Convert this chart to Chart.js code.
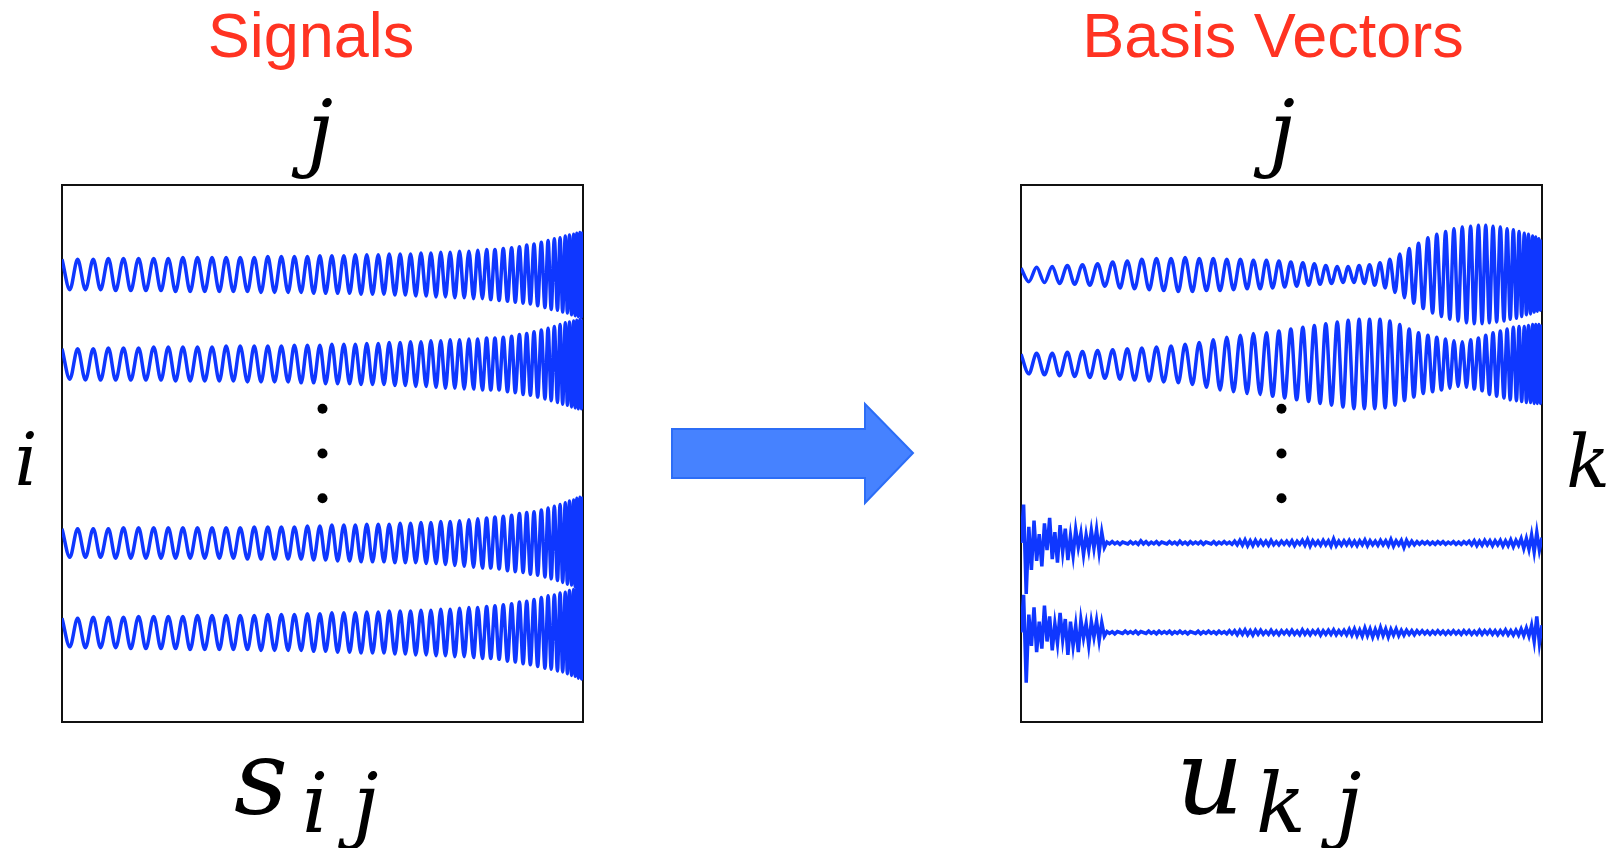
<!DOCTYPE html>
<html lang="en">
<head>
<meta charset="UTF-8">
<title>Signals and Basis Vectors</title>
<script src="https://cdn.jsdelivr.net/npm/chart.js"></script>
<style>
  html, body { margin:0; padding:0; background:#fff; }
  body { width:1617px; height:848px; position:relative; overflow:hidden; }
  .panel { position:absolute; top:175px; width:541px; height:557px; }
  .panel canvas { display:block; }
  .title {
    position:absolute; top:4px; width:600px; text-align:center;
    font-family:"Liberation Sans", Arial, sans-serif; font-size:63px; line-height:1;
    color:#ff3322;
  }
  .math {
    position:absolute; font-family:"DejaVu Serif", serif; font-style:italic;
    line-height:1; color:#000; white-space:nowrap;
  }
  #arrow { position:absolute; left:660px; top:395px; }
</style>
</head>
<body>
  <div class="title" style="left:11px;">Signals</div>
  <div class="title" style="left:973px;">Basis Vectors</div>

  <div class="math" style="left:270px; width:100px; text-align:center; top:89px; font-size:84px;">j</div>
  <div class="math" style="left:1232px; width:100px; text-align:center; top:89px; font-size:84px;">j</div>
  <div class="math" style="left:0px; width:52px; text-align:center; top:424px; font-size:72px;">i</div>
  <div class="math" style="left:1562px; width:52px; text-align:center; top:426px; font-size:72px;">k</div>

  <div class="math" style="left:234px; top:726px; font-size:105px;">s</div>
  <div class="math" style="left:302px; top:763px; font-size:82px;">i</div>
  <div class="math" style="left:353px; top:763px; font-size:82px;">j</div>
  <div class="math" style="left:1176px; top:726px; font-size:105px;">u</div>
  <div class="math" style="left:1256px; top:763px; font-size:82px;">k</div>
  <div class="math" style="left:1336px; top:763px; font-size:82px;">j</div>

  <div class="panel" style="left:52px;"><canvas id="signals" width="541" height="557"></canvas></div>
  <div class="panel" style="left:1011px;"><canvas id="basis" width="541" height="557"></canvas></div>

  <svg id="arrow" width="270" height="120">
    <polygon points="12,34 205,34 205,9 253,58 205,108 205,83 12,83"
             fill="#4682ff" stroke="#2c6df6" stroke-width="2"/>
  </svg>

<script>
// sample index j of every peak / trough (shared time axis, chirp gets faster)
const waveJ = [
  0, 15, 30, 45, 60, 74, 89, 103, 118, 132,
  147, 161, 176, 190, 204, 218, 232, 246, 260, 274,
  288, 302, 315, 329, 342, 356, 369, 382, 395, 408,
  421, 434, 446, 459, 471, 483, 495, 506, 518, 529,
  541, 552, 563, 574, 585, 596, 607, 618, 628, 639,
  649, 659, 669, 679, 689, 699, 708, 718, 727, 736,
  745, 754, 763, 772, 781, 790, 798, 807, 815, 823,
  831, 839, 847, 855, 863, 870, 878, 885, 892, 899,
  906, 913, 920, 927, 933, 939, 945, 951, 956, 961,
  966, 970, 974, 978, 982, 985, 988, 991, 994, 997,
  1000
];

// signals s_ij : row offsets and amplitude at each extremum
const sigRows = [5, 4, 2, 1];
const sigAmp1 = [
  0.17,0.17,0.17,0.17,0.17,0.17,0.18,0.18,0.18,0.18,
  0.18,0.18,0.18,0.18,0.18,0.19,0.19,0.19,0.19,0.19,
  0.19,0.19,0.19,0.19,0.19,0.19,0.19,0.2,0.2,0.2,
  0.2,0.2,0.2,0.2,0.2,0.21,0.21,0.21,0.21,0.21,
  0.21,0.21,0.22,0.22,0.22,0.22,0.22,0.22,0.23,0.23,
  0.23,0.23,0.23,0.24,0.24,0.24,0.24,0.25,0.25,0.25,
  0.25,0.26,0.26,0.26,0.26,0.27,0.27,0.27,0.28,0.28,
  0.28,0.29,0.29,0.3,0.3,0.31,0.31,0.32,0.33,0.33,
  0.34,0.35,0.36,0.37,0.38,0.39,0.4,0.4,0.41,0.42,
  0.43,0.43,0.44,0.45,0.45,0.46,0.46,0.47,0.47,0.48,
  0.48
];
const sigAmp2 = [
  0.17,0.17,0.17,0.18,0.17,0.18,0.18,0.18,0.18,0.18,
  0.18,0.18,0.19,0.18,0.19,0.19,0.19,0.19,0.19,0.19,
  0.19,0.19,0.2,0.19,0.2,0.2,0.2,0.2,0.2,0.2,
  0.2,0.2,0.21,0.21,0.21,0.21,0.21,0.22,0.22,0.22,
  0.22,0.22,0.22,0.23,0.23,0.23,0.23,0.23,0.24,0.24,
  0.24,0.24,0.25,0.25,0.25,0.25,0.26,0.26,0.26,0.27,
  0.27,0.27,0.27,0.28,0.28,0.28,0.28,0.29,0.29,0.29,
  0.29,0.29,0.3,0.31,0.31,0.32,0.33,0.34,0.34,0.35,
  0.36,0.37,0.38,0.39,0.4,0.41,0.42,0.43,0.44,0.45,
  0.46,0.46,0.47,0.48,0.48,0.49,0.49,0.5,0.5,0.5,
  0.5
];
const sigAmp3 = [
  0.16,0.16,0.16,0.16,0.16,0.16,0.16,0.17,0.17,0.17,
  0.17,0.17,0.17,0.17,0.17,0.17,0.17,0.17,0.17,0.17,
  0.17,0.17,0.17,0.17,0.17,0.18,0.18,0.18,0.18,0.18,
  0.18,0.18,0.18,0.18,0.19,0.19,0.19,0.19,0.2,0.2,
  0.2,0.2,0.2,0.21,0.21,0.21,0.21,0.21,0.21,0.22,
  0.22,0.22,0.22,0.22,0.23,0.23,0.23,0.23,0.24,0.24,
  0.24,0.25,0.25,0.26,0.26,0.27,0.27,0.28,0.28,0.28,
  0.29,0.29,0.3,0.31,0.31,0.32,0.33,0.33,0.34,0.35,
  0.35,0.36,0.37,0.38,0.39,0.4,0.41,0.42,0.43,0.44,
  0.45,0.46,0.47,0.47,0.48,0.49,0.5,0.5,0.51,0.52,
  0.52
];
const sigAmp4 = [
  0.16,0.16,0.16,0.17,0.17,0.17,0.17,0.17,0.17,0.18,
  0.18,0.18,0.18,0.18,0.18,0.18,0.18,0.19,0.19,0.19,
  0.19,0.19,0.19,0.19,0.19,0.19,0.19,0.2,0.2,0.2,
  0.2,0.2,0.2,0.2,0.21,0.21,0.21,0.21,0.22,0.22,
  0.22,0.22,0.22,0.23,0.23,0.23,0.23,0.23,0.24,0.24,
  0.24,0.24,0.24,0.25,0.25,0.25,0.25,0.26,0.26,0.26,
  0.26,0.27,0.27,0.27,0.28,0.28,0.28,0.29,0.29,0.29,
  0.3,0.3,0.31,0.32,0.32,0.33,0.34,0.35,0.35,0.36,
  0.37,0.38,0.39,0.4,0.41,0.41,0.42,0.43,0.44,0.44,
  0.45,0.46,0.47,0.48,0.48,0.49,0.5,0.51,0.51,0.52,
  0.52
];

// basis vectors u_kj : first two oscillate with beating envelopes
const basisRows = [5, 4];
const basisAmp1 = [
  0.07,0.08,0.08,0.09,0.09,0.1,0.1,0.11,0.11,0.12,
  0.12,0.13,0.14,0.15,0.15,0.16,0.17,0.17,0.18,0.18,
  0.18,0.19,0.19,0.19,0.18,0.18,0.18,0.18,0.17,0.17,
  0.17,0.16,0.16,0.16,0.16,0.15,0.15,0.14,0.14,0.13,
  0.13,0.12,0.12,0.11,0.1,0.1,0.09,0.09,0.09,0.09,
  0.1,0.1,0.11,0.12,0.13,0.15,0.17,0.2,0.23,0.26,
  0.29,0.32,0.35,0.38,0.41,0.43,0.45,0.47,0.48,0.5,
  0.51,0.52,0.53,0.54,0.54,0.55,0.55,0.55,0.55,0.54,
  0.54,0.53,0.53,0.52,0.51,0.5,0.5,0.49,0.48,0.47,
  0.46,0.45,0.45,0.44,0.43,0.42,0.42,0.41,0.4,0.4,
  0.39
];
const basisAmp2 = [
  0.11,0.11,0.12,0.12,0.12,0.13,0.13,0.14,0.14,0.15,
  0.15,0.16,0.16,0.17,0.17,0.18,0.18,0.19,0.19,0.2,
  0.2,0.21,0.22,0.23,0.24,0.26,0.27,0.29,0.3,0.31,
  0.32,0.33,0.34,0.34,0.35,0.36,0.37,0.38,0.39,0.4,
  0.41,0.42,0.43,0.44,0.45,0.46,0.47,0.48,0.49,0.5,
  0.5,0.5,0.5,0.5,0.5,0.49,0.48,0.46,0.44,0.41,
  0.39,0.37,0.35,0.33,0.32,0.31,0.3,0.29,0.28,0.27,
  0.26,0.25,0.25,0.26,0.27,0.28,0.29,0.3,0.32,0.34,
  0.35,0.36,0.37,0.38,0.39,0.4,0.41,0.41,0.42,0.42,
  0.42,0.43,0.43,0.43,0.44,0.44,0.44,0.44,0.44,0.44,
  0.44
];

// last two basis vectors are noise, one value every noiseStep samples
const noiseStep = 5;
const noiseRows = [2, 1];
const noise1 = [
  0.0,0.43,-0.57,0.18,-0.3,0.25,-0.2,0.1,-0.26,0.22,
  -0.08,0.28,-0.18,0.12,-0.22,0.2,-0.1,0.16,-0.19,0.08,
  -0.14,0.15,-0.05,0.11,-0.13,0.09,-0.08,0.14,-0.06,0.15,
  -0.1,0.12,-0.05,
  0.01,-0.01,0.015,-0.01,0.01,-0.015,0.01,0.0,-0.01,0.015,
  -0.01,0.01,-0.015,0.025,-0.01,0.015,-0.015,0.01,-0.01,0.015,
  -0.015,0.01,0.0,-0.01,0.015,-0.01,0.01,-0.015,0.02,-0.01,
  0.01,-0.015,0.015,-0.01,0.01,-0.01,0.015,-0.015,0.01,0.0,
  -0.01,0.015,-0.015,0.01,-0.01,0.015,-0.01,0.01,-0.015,0.02,
  -0.02,0.03,-0.025,0.035,-0.03,0.025,-0.03,0.03,-0.02,0.025,
  -0.02,0.02,-0.025,0.03,-0.02,0.015,-0.02,0.02,-0.015,0.02,
  -0.02,0.025,-0.03,0.02,-0.015,0.03,-0.025,0.04,-0.035,0.025,
  -0.02,0.02,-0.025,0.03,-0.02,0.025,-0.035,0.045,-0.03,0.02,
  -0.025,0.025,-0.02,0.03,-0.025,0.02,-0.03,0.025,-0.02,0.035,
  -0.03,0.025,-0.02,0.02,-0.025,0.03,-0.02,0.025,-0.03,0.04,
  -0.035,0.025,-0.02,0.03,-0.05,0.03,-0.025,0.02,-0.02,0.015,
  -0.015,0.015,-0.01,0.015,-0.015,0.01,-0.015,0.015,-0.01,0.015,
  -0.015,0.01,-0.01,0.015,-0.015,0.01,-0.015,0.015,-0.01,0.02,
  -0.02,0.025,-0.03,0.02,-0.025,0.03,-0.02,0.025,-0.03,0.025,
  -0.02,0.03,-0.035,0.025,-0.03,0.035,-0.04,0.03,-0.025,0.05,
  -0.06,0.05,-0.07,0.09,-0.1,0.12,-0.08,0.06
];
const noise2 = [
  0.0,0.42,-0.56,0.2,-0.15,0.28,-0.22,0.12,-0.18,0.3,
  -0.1,0.18,-0.2,0.1,-0.12,0.22,-0.08,0.15,-0.25,0.12,
  -0.15,0.08,-0.22,0.14,-0.06,0.1,-0.14,0.12,-0.05,0.13,
  -0.09,0.11,-0.04,
  0.01,-0.01,0.01,-0.015,0.01,0.0,-0.01,0.015,-0.01,0.01,
  -0.01,0.015,-0.015,0.01,0.0,-0.01,0.015,-0.01,0.01,-0.015,
  0.015,-0.01,0.01,-0.01,0.015,-0.015,0.01,-0.01,0.015,-0.01,
  0.01,-0.015,0.01,0.0,-0.01,0.015,-0.015,0.01,-0.01,0.015,
  -0.01,0.01,-0.015,0.015,-0.01,0.01,-0.015,0.02,-0.015,0.02,
  -0.025,0.025,-0.02,0.03,-0.025,0.02,-0.03,0.025,-0.02,0.025,
  -0.02,0.015,-0.02,0.025,-0.02,0.015,-0.025,0.02,-0.015,0.02,
  -0.02,0.025,-0.02,0.015,-0.025,0.03,-0.02,0.02,-0.025,0.02,
  -0.015,0.025,-0.03,0.02,-0.02,0.025,-0.02,0.03,-0.025,0.02,
  -0.02,0.025,-0.025,0.035,-0.03,0.04,-0.035,0.03,-0.04,0.05,
  -0.035,0.04,-0.05,0.035,-0.04,0.055,-0.035,0.04,-0.05,0.035,
  -0.03,0.04,-0.035,0.025,-0.03,0.025,-0.02,0.02,-0.025,0.02,
  -0.015,0.02,-0.015,0.015,-0.02,0.015,-0.015,0.02,-0.015,0.015,
  -0.02,0.015,-0.015,0.02,-0.015,0.015,-0.02,0.02,-0.015,0.02,
  -0.02,0.015,-0.02,0.025,-0.02,0.02,-0.015,0.025,-0.02,0.02,
  -0.025,0.02,-0.02,0.03,-0.025,0.02,-0.03,0.025,-0.03,0.04,
  -0.035,0.05,-0.04,0.08,-0.1,0.18,-0.12,0.08
];

// the vertical ellipsis between rows
const dotJ = [500, 500, 500];
const dotRows = [3.5, 3, 2.5];

const BLUE = '#0f37ff';

function wave(row, amps) {
  return waveJ.map((j, k) => ({ x: j, y: row + (k % 2 ? -amps[k] : amps[k]) }));
}
function noise(row, vals) {
  return vals.map((v, i) => ({ x: i * noiseStep, y: row + v }));
}
function line(data, smooth) {
  return {
    data: data, borderColor: BLUE, borderWidth: 3.5, pointRadius: 0, fill: false,
    tension: 0, cubicInterpolationMode: smooth ? 'monotone' : 'default'
  };
}
function dots() {
  return {
    type: 'scatter', data: dotJ.map((j, i) => ({ x: j, y: dotRows[i] })),
    pointRadius: 5, backgroundColor: '#000', borderWidth: 0, showLine: false
  };
}

const edge = {
  ticks: { display: false },
  grid: { display: false, drawTicks: false },
  border: { display: true, color: '#111', width: 2 }
};

function panel(id, datasets) {
  return new Chart(document.getElementById(id), {
    type: 'line',
    data: { datasets: datasets },
    options: {
      responsive: false,
      animation: false,
      events: [],
      layout: { padding: 10 },
      plugins: { legend: { display: false }, tooltip: { enabled: false } },
      scales: {
        x: { type: 'linear', min: 0, max: 1000, ...edge },
        xTop: { type: 'linear', position: 'top', min: 0, max: 1000, ...edge },
        y: { type: 'linear', min: 0, max: 6, ...edge },
        yRight: { type: 'linear', position: 'right', min: 0, max: 6, ...edge }
      }
    }
  });
}

panel('signals', [
  line(wave(sigRows[0], sigAmp1), true),
  line(wave(sigRows[1], sigAmp2), true),
  line(wave(sigRows[2], sigAmp3), true),
  line(wave(sigRows[3], sigAmp4), true),
  dots()
]);

panel('basis', [
  line(wave(basisRows[0], basisAmp1), true),
  line(wave(basisRows[1], basisAmp2), true),
  line(noise(noiseRows[0], noise1), false),
  line(noise(noiseRows[1], noise2), false),
  dots()
]);
</script>
</body>
</html>
